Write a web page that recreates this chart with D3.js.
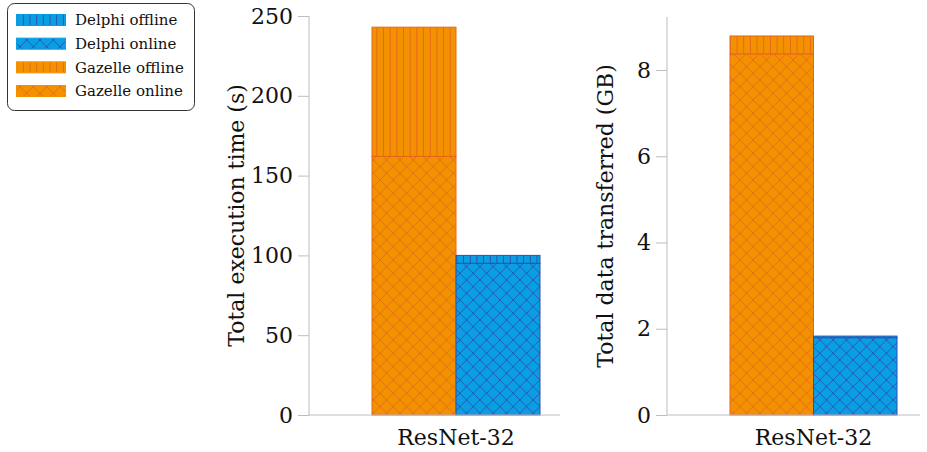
<!DOCTYPE html>
<html>
<head>
<meta charset="utf-8">
<script src="https://cdn.jsdelivr.net/npm/d3@7"></script>
<style>
  html, body { margin: 0; padding: 0; background: #fff; }
  svg { display: block; }
  text { font-family: "DejaVu Serif", "Liberation Serif", serif; fill: #111; }
</style>
</head>
<body>
<svg id="chart" width="927" height="452"></svg>
<script>
// Benchmark model and the two systems compared
const categories = ["ResNet-32"];
const systems = ["Gazelle", "Delphi"];

// Total execution time (s), split into online and offline phases
const timeOnline  = [162, 95];
const timeOffline = [81, 5];

// Total data transferred (GB), split into online and offline phases
const dataOnline  = [8.37, 1.79];
const dataOffline = [0.42, 0.04];

const timeTicks = [0, 50, 100, 150, 200, 250];
const dataTicks = [0, 2, 4, 6, 8];

const legendItems = [
  { label: "Delphi offline",  pat: "delphi-off" },
  { label: "Delphi online",   pat: "delphi-on" },
  { label: "Gazelle offline", pat: "gazelle-off" },
  { label: "Gazelle online",  pat: "gazelle-on" }
];

const palette = {
  Gazelle: { fill: "#f39200", line: "#e8661c", stroke: "#e8661c" },
  Delphi:  { fill: "#0a9fe2", line: "#2f4fae", stroke: "#2f4fae" }
};

const svg = d3.select("#chart");
const defs = svg.append("defs");

function verticalPattern(id, c) {
  const w = 6.67;
  const p = defs.append("pattern").attr("id", id)
    .attr("patternUnits", "userSpaceOnUse").attr("width", w).attr("height", 10);
  p.append("rect").attr("width", w).attr("height", 10).attr("fill", c.fill);
  p.append("line").attr("x1", w / 2).attr("x2", w / 2).attr("y1", 0).attr("y2", 10)
    .attr("stroke", c.line).attr("stroke-width", 1);
}
function crossPattern(id, c) {
  const s = 13.33;
  const p = defs.append("pattern").attr("id", id)
    .attr("patternUnits", "userSpaceOnUse").attr("width", s).attr("height", s);
  p.append("rect").attr("width", s).attr("height", s).attr("fill", c.fill);
  p.append("path").attr("d", `M0,0L${s},${s}M${s},0L0,${s}`)
    .attr("stroke", c.line).attr("stroke-width", 0.9).attr("fill", "none");
}
verticalPattern("gazelle-off", palette.Gazelle);
crossPattern("gazelle-on", palette.Gazelle);
verticalPattern("delphi-off", palette.Delphi);
crossPattern("delphi-on", palette.Delphi);

function panel(opts) {
  const { x0, axisRight, yTop, yBottom, domainMax, ticks, online, offline, label, labelX, barStart, barWidth } = opts;
  const g = svg.append("g");
  const y = d3.scaleLinear().domain([0, domainMax]).range([yBottom, yTop]);
  const x = d3.scaleBand().domain(systems).range([barStart, barStart + 2 * barWidth]).padding(0);

  // bars: online at the bottom, offline stacked on top
  systems.forEach((s, i) => {
    const c = palette[s];
    const key = s.toLowerCase();
    const on = online[i], off = offline[i];
    g.append("rect")
      .attr("x", x(s)).attr("width", x.bandwidth())
      .attr("y", y(on + off)).attr("height", y(on) - y(on + off))
      .attr("fill", `url(#${key}-off)`).attr("stroke", c.stroke).attr("stroke-width", 1);
    g.append("rect")
      .attr("x", x(s)).attr("width", x.bandwidth())
      .attr("y", y(on)).attr("height", y(0) - y(on))
      .attr("fill", `url(#${key}-on)`).attr("stroke", c.stroke).attr("stroke-width", 1);
  });

  // y axis
  const yAxis = d3.axisLeft(y).tickValues(ticks).tickSize(11).tickPadding(5).tickSizeOuter(0);
  const ya = g.append("g").attr("transform", `translate(${x0},0)`).call(yAxis);
  ya.select(".domain").attr("stroke", "#bdbdbd").attr("d", `M0,${yTop}V${yBottom}`);
  ya.selectAll(".tick line").attr("stroke", "#bdbdbd");
  ya.selectAll(".tick text").attr("font-size", 22).attr("font-family", "DejaVu Serif, serif").attr("fill", "#111");

  // x axis baseline and category label
  g.append("line").attr("x1", x0).attr("x2", axisRight).attr("y1", yBottom).attr("y2", yBottom)
    .attr("stroke", "#bdbdbd");
  g.append("text").attr("x", barStart + barWidth).attr("y", 445)
    .attr("text-anchor", "middle").attr("font-size", 22).text(categories[0]);

  // y axis title
  g.append("text")
    .attr("transform", `translate(${labelX},${(yTop + yBottom) / 2}) rotate(-90)`)
    .attr("text-anchor", "middle").attr("dy", "0.35em").attr("font-size", 22).text(label);
}

panel({
  x0: 309, axisRight: 560, yTop: 16, yBottom: 415, domainMax: 250,
  ticks: timeTicks, online: timeOnline, offline: timeOffline,
  label: "Total execution time (s)", labelX: 236, barStart: 372, barWidth: 84
});

panel({
  x0: 667, axisRight: 920, yTop: 17, yBottom: 415, domainMax: 9.23,
  ticks: dataTicks, online: dataOnline, offline: dataOffline,
  label: "Total data transferred (GB)", labelX: 605, barStart: 730, barWidth: 83.5
});

// legend
const lg = svg.append("g");
lg.append("rect").attr("x", 7.5).attr("y", 3.5).attr("width", 187).attr("height", 107)
  .attr("rx", 7).attr("fill", "#fff").attr("stroke", "#333").attr("stroke-width", 1);
const rowY = d3.scalePoint().domain(legendItems.map(d => d.label)).range([20, 91]);
legendItems.forEach(d => {
  const cy = rowY(d.label);
  const c = d.pat.startsWith("delphi") ? palette.Delphi : palette.Gazelle;
  lg.append("rect").attr("x", 16.5).attr("y", cy - 5.5).attr("width", 49).attr("height", 11)
    .attr("fill", `url(#${d.pat})`).attr("stroke", c.fill).attr("stroke-width", 1);
  lg.append("text").attr("x", 75).attr("y", cy).attr("dy", "0.35em")
    .attr("font-size", 15).text(d.label);
});
</script>
</body>
</html>
